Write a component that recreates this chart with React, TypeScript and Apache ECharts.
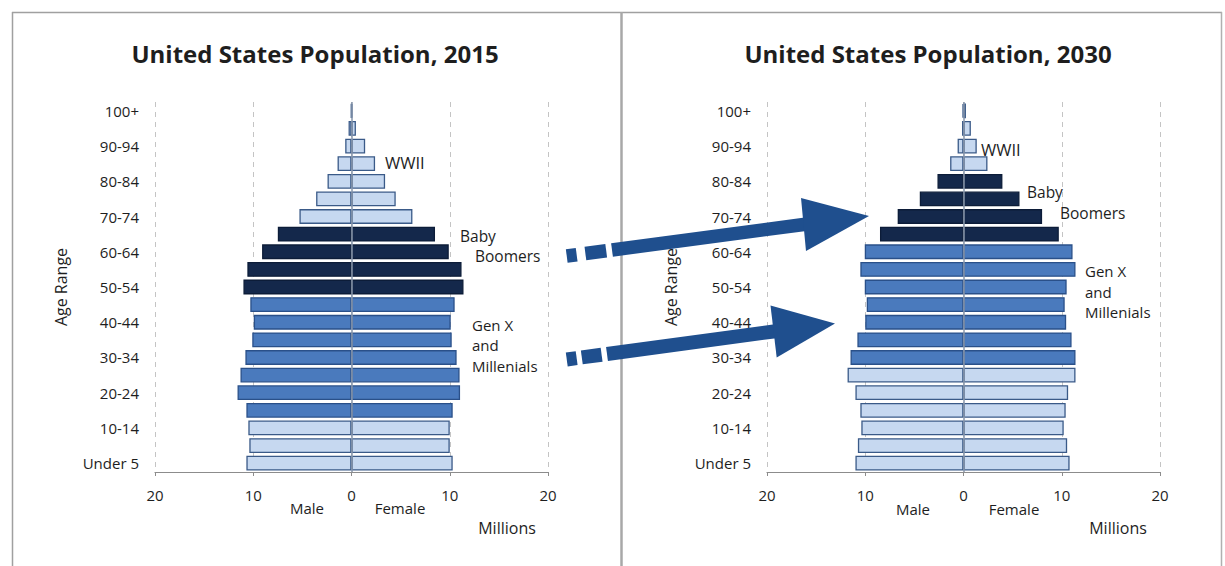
import React, { useEffect, useRef } from "react";
import * as echarts from "echarts";

// ---- data ----
const categories = [
  "Under 5", "5-9", "10-14", "15-19", "20-24", "25-29", "30-34", "35-39", "40-44", "45-49",
  "50-54", "55-59", "60-64", "65-69", "70-74", "75-79", "80-84", "85-89", "90-94", "95-99", "100+",
];

const male2015 = [10.7, 10.4, 10.5, 10.7, 11.6, 11.3, 10.8, 10.1, 9.95, 10.3, 11.0, 10.6, 9.1, 7.5, 5.3, 3.6, 2.44, 1.42, 0.64, 0.3, 0.05];
const female2015 = [10.3, 10.0, 10.0, 10.3, 11.05, 11.0, 10.7, 10.2, 10.1, 10.5, 11.4, 11.2, 9.9, 8.5, 6.2, 4.5, 3.42, 2.4, 1.39, 0.45, 0.1];
// L = other, M = Gen X & Millenials, D = Baby Boomers
const gen2015 = ["L", "L", "L", "M", "M", "M", "M", "M", "M", "M", "D", "D", "D", "D", "L", "L", "L", "L", "L", "L", "L"];

const male2030 = [11.0, 10.75, 10.4, 10.5, 11.0, 11.8, 11.5, 10.8, 10.0, 9.85, 10.05, 10.5, 10.05, 8.5, 6.7, 4.45, 2.65, 1.36, 0.6, 0.15, 0.1];
const female2030 = [10.8, 10.55, 10.2, 10.4, 10.65, 11.4, 11.4, 11.0, 10.45, 10.3, 10.5, 11.4, 11.1, 9.7, 8.0, 5.7, 3.96, 2.44, 1.35, 0.75, 0.25];
const gen2030 = ["L", "L", "L", "L", "L", "L", "M", "M", "M", "M", "M", "M", "M", "D", "D", "D", "D", "L", "L", "L", "L"];

const titles = ["United States Population, 2015", "United States Population, 2030"];
const xMin = -20;
const xMax = 20;
const xStep = 10;

// ---- styles ----
const FONT = "'Open Sans', 'Liberation Sans', sans-serif";
const FILL: Record<string, string> = { L: "#c6d8f0", M: "#4a7abd", D: "#14284b" };
const EDGE: Record<string, string> = { L: "#3a5a88", M: "#2a5089", D: "#0c1c38" };
const ARROW = "#1f4f8e";
const TEXT = "#1e1e1e";

function rotRect(cx: number, cy: number, len: number, thick: number, ux: number, uy: number) {
  const nx = -uy, ny = ux;
  const hl = len / 2, ht = thick / 2;
  return [
    [cx - ux * hl - nx * ht, cy - uy * hl - ny * ht],
    [cx + ux * hl - nx * ht, cy + uy * hl - ny * ht],
    [cx + ux * hl + nx * ht, cy + uy * hl + ny * ht],
    [cx - ux * hl + nx * ht, cy - uy * hl + ny * ht],
  ];
}

function arrow(
  start: [number, number],
  base: [number, number],
  head: [number, number][],
  thick: number,
  dashes: { x: number; len: number }[],
) {
  const dx = base[0] - start[0], dy = base[1] - start[1];
  const L = Math.hypot(dx, dy);
  const ux = dx / L, uy = dy / L;
  const els: any[] = [];
  const ext = 4;
  const cx = (start[0] + base[0] + ux * ext) / 2;
  const cy = (start[1] + base[1] + uy * ext) / 2;
  els.push({ type: "polygon", z: 100, shape: { points: rotRect(cx, cy, L + ext, thick, ux, uy) }, style: { fill: ARROW } });
  els.push({ type: "polygon", z: 100, shape: { points: head }, style: { fill: ARROW } });
  dashes.forEach((d) => {
    const t = (d.x - start[0]) / ux;
    const y = start[1] + uy * t;
    els.push({ type: "polygon", z: 100, shape: { points: rotRect(d.x, y, d.len, thick, ux, uy) }, style: { fill: ARROW } });
  });
  return els;
}

function txt(text: string, x: number, y: number, size: number, align = "left", extra: any = {}) {
  const lh = extra.lineHeight || size;
  return {
    type: "text",
    z: 50,
    x,
    y,
    ...(extra.rotation !== undefined ? { rotation: extra.rotation } : {}),
    style: {
      text,
      fill: TEXT,
      font: `${extra.bold ? "bold " : ""}${size}px ${FONT}`,
      fontFamily: FONT,
      fontSize: size,
      fontWeight: extra.bold ? "bold" : "normal",
      lineHeight: lh,
      align,
      textAlign: align,
      verticalAlign: "middle",
      textVerticalAlign: "middle",
    },
  };
}

export default function App() {
  const ref = useRef<HTMLDivElement>(null);

  useEffect(() => {
    if (!ref.current) return;
    const chart = echarts.init(ref.current, undefined, { renderer: "svg" });

    const grids = [
      { left: 155, top: 102, width: 393, height: 370 },
      { left: 767, top: 102, width: 393, height: 370 },
    ];

    const xAxes = grids.map((_, i) => ({
      type: "value",
      gridIndex: i,
      min: xMin,
      max: xMax,
      interval: xStep,
      axisLine: { show: true, lineStyle: { color: "#8c8c8c", width: 1.2 } },
      axisTick: { show: true, length: 4, lineStyle: { color: "#8c8c8c" } },
      axisLabel: {
        formatter: (v: number) => String(Math.abs(v)),
        color: TEXT,
        fontFamily: FONT,
        fontSize: 15,
        margin: 15,
      },
      splitLine: { show: true, lineStyle: { color: "#c4c4c4", type: [5, 5], width: 1 } },
    }));

    const yAxes = grids.map((_, i) => ({
      type: "category",
      gridIndex: i,
      data: categories,
      axisLine: { show: false },
      axisTick: { show: false },
      splitLine: { show: false },
      axisLabel: { interval: 1, color: TEXT, fontFamily: FONT, fontSize: 15, margin: 16 },
    }));

    const sets = [
      { male: male2015, female: female2015, gen: gen2015 },
      { male: male2030, female: female2030, gen: gen2030 },
    ];

    const series: any[] = [];
    sets.forEach((s, i) => {
      series.push({
        type: "bar",
        name: "Male",
        xAxisIndex: i,
        yAxisIndex: i,
        barCategoryGap: "16%",
        barGap: "-100%",
        data: s.male.map((v, k) => ({
          value: -v,
          itemStyle: { color: FILL[s.gen[k]], borderColor: EDGE[s.gen[k]], borderWidth: 1.3 },
        })),
      });
      series.push({
        type: "bar",
        name: "Female",
        xAxisIndex: i,
        yAxisIndex: i,
        barCategoryGap: "16%",
        barGap: "-100%",
        data: s.female.map((v, k) => ({
          value: v,
          itemStyle: { color: FILL[s.gen[k]], borderColor: EDGE[s.gen[k]], borderWidth: 1.3 },
        })),
        markLine: {
          silent: true,
          symbol: "none",
          label: { show: false },
          lineStyle: { color: "#8796ab", type: "solid", width: 1.5 },
          data: [{ xAxis: 0 }],
        },
      });
    });

    const graphic: any[] = [
      // panel frames
      { type: "line", z: 1, shape: { x1: 12, y1: 12.5, x2: 1222, y2: 12.5 }, style: { stroke: "#a0a0a0", lineWidth: 1.5 } },
      { type: "line", z: 1, shape: { x1: 12.5, y1: 12, x2: 12.5, y2: 566 }, style: { stroke: "#a0a0a0", lineWidth: 1.5 } },
      { type: "line", z: 1, shape: { x1: 621.5, y1: 12, x2: 621.5, y2: 566 }, style: { stroke: "#a8a8a8", lineWidth: 2.5 } },
      { type: "line", z: 1, shape: { x1: 1221.5, y1: 12, x2: 1221.5, y2: 566 }, style: { stroke: "#b0b0b0", lineWidth: 1.5 } },
      // titles
      txt(titles[0], 315, 53, 24, "center", { bold: true }),
      txt(titles[1], 928, 53, 24, "center", { bold: true }),
      // axis names
      txt("Age Range", 61, 287, 16, "center", { rotation: Math.PI / 2 }),
      txt("Age Range", 671, 287, 16, "center", { rotation: Math.PI / 2 }),
      txt("Male", 307, 508, 15, "center"),
      txt("Female", 400, 508, 15, "center"),
      txt("Millions", 507, 528, 16, "center"),
      txt("Male", 913, 509, 15, "center"),
      txt("Female", 1014, 509, 15, "center"),
      txt("Millions", 1118, 528, 16, "center"),
      // annotations 2015
      txt("WWII", 385, 162, 16.5),
      txt("Baby", 460, 235.5, 15.5, "left", { lineHeight: 15 }),
      txt("Boomers", 475, 256, 15.5, "left", { lineHeight: 15 }),
      txt("Gen X\nand\nMillenials", 472, 345, 15, "left", { lineHeight: 20.5 }),
      // annotations 2030
      txt("WWII", 981, 149, 16.5),
      txt("Baby", 1027, 192, 15.5, "left", { lineHeight: 15 }),
      txt("Boomers", 1060, 212.5, 15.5, "left", { lineHeight: 15 }),
      txt("Gen X\nand\nMillenials", 1085, 291.5, 15, "left", { lineHeight: 20.5 }),
      // arrows
      ...arrow([612, 250], [803.5, 224.5], [[801, 198], [869, 216], [806, 251]], 13.5, [
        { x: 571.7, len: 10 },
        { x: 595.8, len: 21 },
      ]),
      ...arrow([607, 354], [773.5, 331.5], [[770.5, 305.5], [835, 323.5], [776.7, 357.5]], 14, [
        { x: 571.7, len: 10 },
        { x: 591.7, len: 20 },
      ]),
    ];

    chart.setOption({
      animation: false,
      backgroundColor: "#ffffff",
      textStyle: { fontFamily: FONT },
      grid: grids,
      xAxis: xAxes,
      yAxis: yAxes,
      series,
      graphic,
    });

    return () => chart.dispose();
  }, []);

  return <div ref={ref} style={{ position: "absolute", left: 0, top: 0, width: 1225, height: 566 }} />;
}
